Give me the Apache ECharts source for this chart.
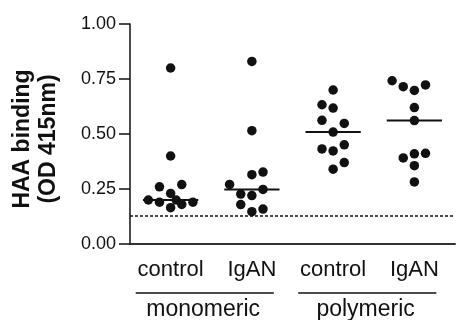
<!DOCTYPE html>
<html>
<head>
<meta charset="utf-8">
<script src="https://cdn.jsdelivr.net/npm/echarts@6/dist/echarts.min.js"></script>
<style>
html,body{margin:0;padding:0;background:#fff}
#chart{width:458px;height:320px}
</style>
</head>
<body>
<div id="chart"></div>
<script>
// tick labels / categories
var categories = ['control', 'IgAN', 'control', 'IgAN']
var groups = ['monomeric', 'polymeric']
var yTicks = [0, 0.25, 0.5, 0.75, 1]

// HAA binding values (OD 415nm)
var monoControl = [0.80, 0.40, 0.26, 0.27, 0.23, 0.20, 0.19, 0.20, 0.18, 0.19, 0.165]
var monoIgAN = [0.83, 0.515, 0.315, 0.327, 0.271, 0.248, 0.227, 0.22, 0.179, 0.159, 0.147]
var polyControl = [0.70, 0.633, 0.618, 0.562, 0.548, 0.509, 0.451, 0.432, 0.423, 0.37, 0.34]
var polyIgAN = [0.742, 0.715, 0.698, 0.723, 0.62, 0.561, 0.391, 0.41, 0.412, 0.356, 0.282]

// horizontal spread of the dots (slot index left/right of column centre)
var monoControlJitter = [0, 0, -1, 1, 0, -2, -1, 0.5, 1, 2, 0]
var monoIgANJitter = [0, 0, 0, 1, -2, 1, -1, 0, -1, 1, 0]
var polyControlJitter = [0, -1, 0, -1, 1, 0, 1, -1, 0, 1, 0]
var polyIgANJitter = [-2, -1, 0, 1, 0, 0, -1, 0, 1, 0, 0]

var cutoff = 0.13

var columns = [monoControl, monoIgAN, polyControl, polyIgAN]
var jitters = [monoControlJitter, monoIgANJitter, polyControlJitter, polyIgANJitter]

var FONT = 'Liberation Sans, Arial, Helvetica, sans-serif'
var INK = '#111'
var step = 0.137

function median(arr){
  var s = arr.slice().sort(function(a,b){return a-b})
  var m = Math.floor(s.length/2)
  return s.length%2 ? s[m] : (s[m-1]+s[m])/2
}

var points = []
columns.forEach(function(col, i){
  col.forEach(function(v, j){
    points.push([i + 0.5 + jitters[i][j]*step, v])
  })
})

var series = [{
  type: 'scatter',
  data: points,
  symbolSize: 9.5,
  itemStyle: {color: INK, opacity: 1},
  silent: true,
  z: 3,
  markLine: {
    silent: true,
    symbol: 'none',
    label: {show: false},
    lineStyle: {color: INK, type: [3, 2], width: 1.5},
    data: [{yAxis: cutoff}]
  }
}]
columns.forEach(function(col, i){
  var m = median(col)
  series.push({
    type: 'line',
    data: [[i + 0.16, m], [i + 0.84, m]],
    symbol: 'none',
    silent: true,
    lineStyle: {color: INK, width: 2}
  })
})

var chart = echarts.init(document.getElementById('chart'), null, {renderer: 'canvas'})
chart.setOption({
  animation: false,
  grid: {left: 130, right: 0, top: 24, bottom: 76},
  xAxis: {
    type: 'value',
    min: 0,
    max: categories.length,
    interval: 0.5,
    axisLine: {show: true, lineStyle: {color: '#333', width: 2}},
    axisTick: {show: false},
    splitLine: {show: false},
    axisLabel: {
      margin: 15,
      fontFamily: FONT,
      fontSize: 22,
      color: INK,
      showMinLabel: true,
      showMaxLabel: true,
      formatter: function(v){
        var k = Math.floor(v)
        return (Math.abs(v - k - 0.5) < 1e-6) ? categories[k] : ''
      }
    }
  },
  yAxis: {
    type: 'value',
    min: yTicks[0],
    max: yTicks[yTicks.length-1],
    interval: yTicks[1] - yTicks[0],
    axisLine: {show: true, lineStyle: {color: INK, width: 1.5}},
    axisTick: {show: true, length: 11, lineStyle: {color: INK, width: 1.5}},
    splitLine: {show: false},
    axisLabel: {
      margin: 14,
      fontFamily: FONT,
      fontSize: 18,
      color: INK,
      formatter: function(v){ return v.toFixed(2) }
    },
    name: 'HAA binding\n(OD 415nm)',
    nameLocation: 'middle',
    nameRotate: 90,
    nameGap: 68,
    nameTextStyle: {fontFamily: FONT, fontSize: 23, fontWeight: 'bold', color: INK, lineHeight: 26, padding: [0, 10, 0, 0]}
  },
  series: series
})

// group labels with their underlines below the category labels
var gfx = []
groups.forEach(function(g, i){
  var x0 = chart.convertToPixel({xAxisIndex: 0}, 2*i + 0.07)
  var x1 = chart.convertToPixel({xAxisIndex: 0}, 2*i + 1.77)
  var xc = chart.convertToPixel({xAxisIndex: 0}, 2*i + 0.9)
  gfx.push({
    type: 'line',
    shape: {x1: x0, y1: 293, x2: x1, y2: 293},
    style: {stroke: INK, lineWidth: 1.5}
  })
  gfx.push({
    type: 'text',
    x: xc, y: 310,
    style: {text: g, font: '23px ' + FONT, fill: INK, align: 'center', verticalAlign: 'middle'}
  })
})
chart.setOption({graphic: gfx})
</script>
</body>
</html>
